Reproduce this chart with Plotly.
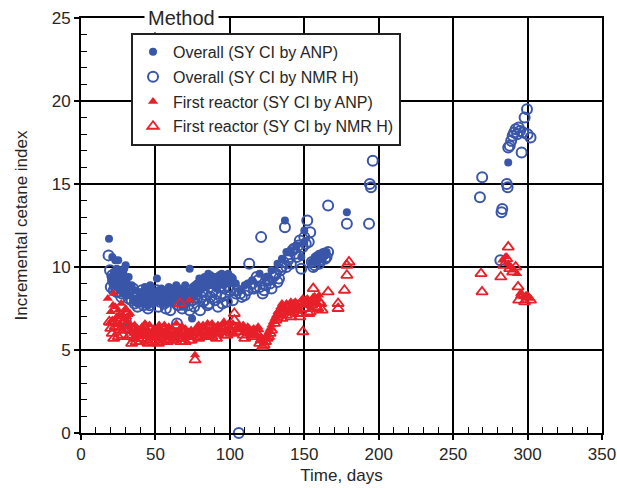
import plotly.graph_objects as go

# ---- data ----
ov_anp_x = [18.8,21,23,25,20,21,22,23,24,25,26,27,28,29,30,31,32,26,28,24,30,
            33,35,36,38,39,40,41,42,43,44,45,46,47,48,49,51,50,52,53,54,55,56,57,58,59,60,
            61,62,63,64,65,66,67,68,69,70,71,72,73,74.6,75,76,77,78,79,80,81,82,83,84,85,86,
            87,88,89,90,91,92,93,94,95,96,97,98,99,100,102,
            115,120,125,128,132,135,137,138,141,145,150,150,148,155,157,159,160,162,164,165,
            178.6,287]
ov_anp_y = [11.7,10.6,10.4,10.4,9.4,9.0,9.7,9.2,8.8,9.5,9.1,9.8,9.3,9.9,9.0,8.7,9.4,8.6,8.4,9.9,10.1,
            8.3,8.0,8.6,7.8,8.2,8.5,7.9,8.3,8.8,8.1,7.7,8.4,8.0,8.6,8.2,9.3,7.9,8.4,8.0,8.7,8.2,7.8,8.5,8.1,8.8,8.3,
            7.9,8.6,8.2,8.9,8.0,8.4,8.7,7.6,8.3,8.9,8.1,8.5,9.9,6.9,8.8,8.2,8.6,9.0,8.4,9.2,8.7,9.1,9.4,8.8,9.3,9.0,
            9.5,8.9,9.2,9.4,8.7,9.1,9.5,9.0,9.3,8.9,9.4,9.2,9.6,9.0,9.3,
            9.2,9.6,9.4,9.8,10.2,10.5,12.8,10.9,11.0,11.3,11.5,12.2,10.6,10.3,10.6,10.4,10.8,10.5,10.7,10.9,
            13.3,16.3]
ov_anp_x2 = [22.5,24.5,26.5,28.5,34,37,40.5,43.5,46.5,49.5,52.5,55.5,58.5,61.5,64.5,67.5,70.5,73.5,76.5,
             79.5,82.5,85.5,88.5,91.5,94.5,97.5,101,104,107,110,112]
ov_anp_y2 = [9.6,9.3,8.9,9.6,8.9,8.1,7.8,8.4,8.9,8.0,8.6,8.3,7.9,8.7,8.1,8.5,8.0,8.4,8.9,
             9.3,9.0,9.6,9.1,8.8,9.6,9.1,9.4,9.0,8.6,8.9,9.0]

ov_nmr_x = [18.5,20,21,22,23,24,25,26,27,28,29,30,31,33,34,36,37,38,40,42,44,45,47,48,50,52,54,56,58,60,
            62,64.5,65,66,68,70,72,74,76,78,80,82,84,86,88,90,92,94,96,98,100,104,106,108,110,113,116,118,
            120,121,122,124,126,128,130,132,134,136,137,138,140,142,144,146,148,150,152,153,154,156,158,160,
            162,164,166,166,178.6,193.5,194,194.8,196,268,269.5,282.5,283,286,286.6,281.7,287,288,289,290,
            291,292,293,294,295,296,297,298,299.6,300,302]
ov_nmr_y = [10.7,8.8,9.5,8.6,9.0,8.5,9.3,8.9,8.2,9.1,8.7,6.8,8.4,6.3,8.0,7.8,8.3,7.6,8.1,7.7,8.2,7.5,8.4,7.9,8.0,7.6,8.3,7.8,8.1,7.4,
            7.9,6.6,7.7,8.2,7.5,8.0,7.7,8.4,7.6,8.1,7.4,7.9,8.3,7.8,8.5,8.0,7.6,8.2,8.7,7.9,8.6,8.4,0.0,8.2,8.3,10.2,8.7,9.4,
            8.8,11.8,8.4,8.9,9.2,8.7,9.5,9.1,9.8,10.3,12.4,10.0,10.6,11.0,10.8,11.3,9.9,11.8,12.8,11.5,12.1,10.0,10.4,10.2,
            10.7,10.5,13.7,10.9,12.6,12.6,15.0,14.8,16.4,14.2,15.4,13.3,13.5,15.0,14.8,10.4,17.2,17.3,17.6,17.9,
            18.1,18.3,18.0,18.4,18.2,16.9,18.1,19.0,19.5,18.0,17.8]
ov_nmr_x2 = [19.5,21.5,23.5,25.5,27.5,29.5,32,35,39,41,43,46,49,51,53,55,57,59,61,63,67,69,71,73,75,77,79,81,
             83,85,87,89,91,93,95,97,99,102,105,107,112,115,117,119,123,125,127,129,131,133,135,139,141,143,
             145,147,149,151,155,157,159,161,163,165]
ov_nmr_y2 = [9.8,9.2,8.7,9.6,8.4,9.0,8.1,8.7,7.9,8.6,8.0,7.7,8.3,8.6,7.9,8.0,7.5,8.4,8.1,8.5,8.3,7.8,8.4,7.4,8.0,8.5,8.9,8.2,
             8.0,7.7,8.2,8.6,8.4,8.8,7.8,8.3,8.8,8.0,8.6,8.4,8.6,9.0,8.8,9.2,8.6,9.3,9.0,9.4,9.6,9.3,10.0,10.4,10.2,11.1,
             10.6,11.6,11.2,11.4,10.3,10.1,10.6,10.4,10.8,10.6]

fr_anp_x = [18,22,20,21,23,24,25,26,27,28,29,30,31,32,33,34,35,36,37,38,39,40,41,42,43,44,45,46,47,48,49,50,
            51,52,53,54,55,56,57,58,59,60,61,62,63,64,65,66,67,68,69,70,71,72,73,74,76.6,78,80,82,84,86,88,90,
            92,94,96,98,100,102,104,106,108,110,112,114,116,118,120,122,124,126,128,130,132,134,136,138,140,
            142,144,146,148,150,152,154,156,158,160,283,285,287,289,291,293,295,297,299,301]
fr_anp_y = [8.1,8.4,7.3,6.8,7.6,7.0,7.4,6.6,7.8,7.1,6.9,7.5,7.0,6.4,7.2,6.2,6.0,6.5,5.9,6.3,6.1,5.8,6.4,6.0,6.6,5.9,6.2,6.5,6.0,5.8,6.3,6.1,
            5.7,6.4,6.0,6.2,5.9,6.5,6.1,5.8,6.4,6.0,6.3,5.7,6.1,6.6,5.9,6.2,6.0,6.4,5.8,6.3,6.1,5.9,8.0,6.2,4.7,6.4,6.1,6.5,6.3,6.0,6.6,6.2,
            6.5,6.3,6.7,6.1,6.4,6.6,6.2,6.5,6.3,6.1,6.4,6.0,6.3,5.9,6.2,5.6,5.8,6.1,6.5,6.9,7.3,7.6,7.4,7.8,7.5,
            7.7,7.9,7.6,8.0,7.7,8.1,7.8,8.2,7.9,8.3,10.4,10.6,10.2,10.0,9.8,9.6,8.4,8.2,8.3,8.1]
fr_anp_x2 = [19,21.5,23.5,25.5,27.5,29.5,31.5,33.5,35.5,37.5,42.5,47.5,52.5,57.5,62.5,67.5,72.5,75,77,79,81,83,85,87,
             89,91,93,95,97,99,101,103,105,107,109,111,113,115,117,119,121,123,125,127,129,131,133,135,137,139,141,
             143,145,147,149,151,153,155,157,159]
fr_anp_y2 = [6.6,7.7,6.5,7.1,6.3,7.4,6.7,6.5,5.7,6.1,6.2,5.9,6.5,6.2,5.9,6.4,6.1,6.0,6.2,6.5,6.0,6.3,6.6,6.1,
             6.4,6.0,6.3,6.5,6.2,6.6,6.3,6.0,6.4,6.2,6.5,6.1,6.3,6.2,6.0,6.4,5.8,5.5,5.9,6.3,6.7,7.1,7.4,7.8,7.6,7.3,7.9,
             7.5,7.8,7.4,8.1,7.9,7.7,8.0,8.2,7.8]

fr_nmr_x = [19,21,23,25,27,29,31,33,34,36,38,40,42,44,46,48,50,52,54,56,58,60,62,64,66.5,68,70,72,74,76.6,
            78,80,82,84,86,88,90,92,95,98,100,103,103,106,109,112,115,118,120,122,124,126,128,130,132,134,136,
            138,140,142,144,146,149,150,152,154,156,158,160,162,166,172.7,172.7,177,178.6,178.6,180,
            268.7,269.4,282,284,286,287,288,290,292,293.6,294,296,298,300,302]
fr_nmr_y = [6.7,6.0,6.4,5.8,6.9,6.2,7.2,5.9,5.4,5.7,6.1,5.5,6.0,5.6,5.9,5.5,5.8,5.4,5.7,6.0,5.5,5.8,5.6,6.0,7.8,5.7,5.5,5.9,5.6,4.4,
            6.0,5.8,6.2,5.9,6.1,5.8,6.2,6.0,6.3,5.9,6.2,7.2,6.8,6.1,5.9,6.2,5.8,6.0,5.4,5.2,5.5,5.8,6.2,6.6,7.0,7.2,7.5,
            7.1,7.4,7.3,7.6,7.2,6.1,7.5,7.8,7.3,8.7,7.6,7.9,7.4,8.5,7.8,7.5,8.6,9.5,10.1,10.3,
            9.6,8.5,9.4,10.1,10.5,11.2,9.9,9.7,10.0,8.8,8.0,8.3,7.9,8.2,8.0]
fr_nmr_x2 = [20,22,24,26,28,30,32,35,37,39,41,43,45,47,49,51,53,55,57,59,61,63,65,67,69,71,73,75,79,81,83,85,87,89,
             91,94,97,101,107,110,113,117,121,123,125,127,131,133,135,137,139,141,143,145,147,151,153,155,157,159,161]
fr_nmr_y2 = [6.3,5.7,6.6,6.2,5.9,6.5,5.8,6.2,5.5,5.9,5.7,6.1,5.4,5.8,6.0,5.6,6.0,5.5,5.8,5.6,6.1,5.7,5.9,5.5,6.0,5.8,5.6,5.9,5.7,6.1,5.8,6.0,5.9,6.2,
             5.7,6.1,5.9,6.0,6.3,5.7,6.0,5.9,5.6,5.3,5.7,6.0,6.8,7.1,6.9,7.3,7.6,7.0,7.7,7.4,7.0,7.9,7.2,7.7,8.1,7.5,7.8]

x_ticks = [0, 50, 100, 150, 200, 250, 300, 350]
y_ticks = [0, 5, 10, 15, 20, 25]
x_minor_step = 10
y_minor_step = 1

BLUE = "#3a56a8"
RED = "#e8202a"
FONT = "Liberation Sans"
TXT = "#262626"

fig = go.Figure()
fig.add_trace(go.Scatter(x=ov_anp_x + ov_anp_x2, y=ov_anp_y + ov_anp_y2, mode="markers",
                         name="Overall (SY CI by ANP)", legendgroup="a", cliponaxis=False,
                         marker=dict(symbol="circle", size=8, color=BLUE)))
fig.add_trace(go.Scatter(x=ov_nmr_x + ov_nmr_x2, y=ov_nmr_y + ov_nmr_y2, mode="markers",
                         name="Overall (SY CI by NMR H)", legendgroup="b", cliponaxis=False,
                         marker=dict(symbol="circle-open", size=10, color=BLUE, line=dict(width=2))))
fig.add_trace(go.Scatter(x=fr_anp_x + fr_anp_x2, y=fr_anp_y + fr_anp_y2, mode="markers",
                         name="First reactor (SY CI by ANP)", legendgroup="c", cliponaxis=False,
                         marker=dict(symbol="triangle-up", size=9, color=RED)))
fig.add_trace(go.Scatter(x=fr_nmr_x + fr_nmr_x2, y=fr_nmr_y + fr_nmr_y2, mode="markers",
                         name="First reactor (SY CI by NMR H)", legendgroup="d", cliponaxis=False,
                         marker=dict(symbol="triangle-up-open", size=10, color=RED, line=dict(width=1.8))))
# empty helper trace so the overlay axes (inside minor ticks) get drawn
fig.add_trace(go.Scatter(x=[], y=[], xaxis="x2", yaxis="y2", showlegend=False, hoverinfo="skip"))

axis_common = dict(showline=True, linecolor="black", linewidth=2, mirror=True,
                   showgrid=True, gridcolor="black", gridwidth=1.5, zeroline=False,
                   ticks="outside", ticklen=5, tickwidth=1.5, tickcolor="black", automargin=False,
                   tickfont=dict(family=FONT, size=17, color=TXT))

fig.update_layout(
    xaxis=dict(range=[x_ticks[0], x_ticks[-1]], tickmode="linear", tick0=x_ticks[0], dtick=x_ticks[1] - x_ticks[0],
               title=dict(text="Time, days", font=dict(family=FONT, size=17, color=TXT), standoff=6),
               **axis_common),
    yaxis=dict(range=[y_ticks[0], y_ticks[-1]], tickmode="linear", tick0=y_ticks[0], dtick=y_ticks[1] - y_ticks[0],
               title=dict(text="Incremental cetane index", font=dict(family=FONT, size=17, color=TXT), standoff=20),
               **axis_common),
    xaxis2=dict(overlaying="x", anchor="y2", side="bottom", range=[x_ticks[0], x_ticks[-1]],
                tickmode="linear", tick0=0, dtick=x_minor_step, ticks="inside", ticklen=6,
                tickwidth=1.2, tickcolor="black", showticklabels=False, showgrid=False,
                showline=False, zeroline=False, automargin=False),
    yaxis2=dict(overlaying="y", anchor="x2", side="left", range=[y_ticks[0], y_ticks[-1]],
                tickmode="linear", tick0=0, dtick=y_minor_step, ticks="inside", ticklen=6,
                tickwidth=1.2, tickcolor="black", showticklabels=False, showgrid=False,
                showline=False, zeroline=False, automargin=False),
)

fig.add_annotation(x=0.192, y=1.0, xref="paper", yref="paper", text="Method", showarrow=False,
                   font=dict(family=FONT, size=20, color=TXT), bgcolor="white",
                   xanchor="center", yanchor="middle", borderpad=3)

fig.update_layout(
    width=617, height=488,
    margin=dict(l=81, r=15, t=18, b=55),
    paper_bgcolor="white", plot_bgcolor="white",
    showlegend=True,
    legend=dict(x=0.096, y=0.964, xanchor="left", yanchor="top",
                bgcolor="white", bordercolor="#222", borderwidth=2,
                font=dict(family=FONT, size=16, color=TXT),
                tracegroupgap=1, itemwidth=30),
)

fig.write_html("out.html")
